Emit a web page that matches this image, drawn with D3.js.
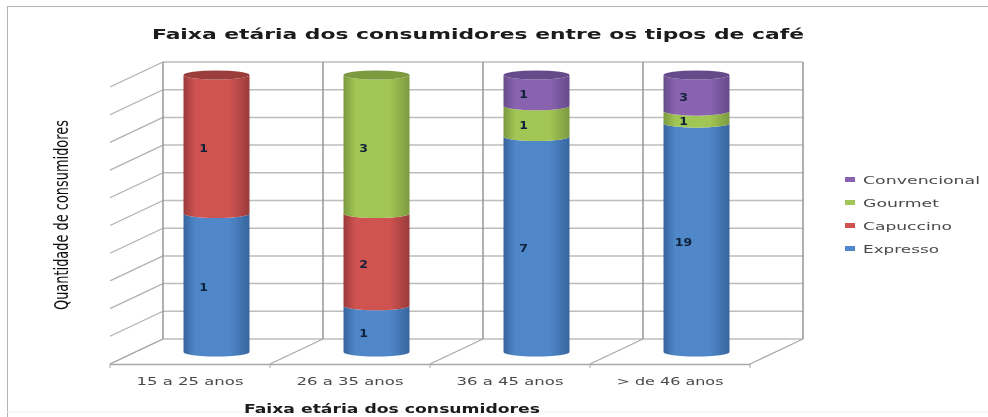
<!DOCTYPE html>
<html>
<head>
<meta charset="utf-8">
<script src="https://cdn.jsdelivr.net/npm/d3@7"></script>
<style>
  html, body { margin: 0; padding: 0; background: #fff; }
  svg { display: block; }
  text { font-family: "DejaVu Sans", sans-serif; }
</style>
</head>
<body>
<script>
// values as printed on the bars, each column is stacked to 100%
const faixas = ['15 a 25 anos', '26 a 35 anos', '36 a 45 anos', '> de 46 anos']
const expresso = [1, 1, 7, 19]
const capuccino = [1, 2, 0, 0]
const gourmet = [0, 3, 1, 1]
const convencional = [0, 0, 1, 3]

const tipos = ['Expresso', 'Capuccino', 'Gourmet', 'Convencional']
const cores = ['#4f87c8', '#cf5351', '#a2c654', '#8a64b0']
const coresEscuras = ['#37659e', '#9a3c3a', '#7b9a40', '#664b8a']
const titulo = 'Faixa etária dos consumidores entre os tipos de café'
const tituloX = 'Faixa etária dos consumidores'
const tituloY = 'Quantidade de consumidores'

const width = 988
const height = 417

// 3d box: floor front edge and how far the back wall is shifted
const depthX = 53
const depthY = -25
const cylW = 66
const cylRy = 4.5

const rows = faixas.map((f, i) => ({
  faixa: f,
  Expresso: expresso[i],
  Capuccino: capuccino[i],
  Gourmet: gourmet[i],
  Convencional: convencional[i]
}))
const stacked = d3.stack().keys(tipos).offset(d3.stackOffsetExpand)(rows)

const x = d3.scaleBand().domain(faixas).range([110, 750])
const y = d3.scaleLinear().domain([0, 1]).range([339, 62])
const color = d3.scaleOrdinal().domain(tipos).range(cores)
const dark = d3.scaleOrdinal().domain(tipos).range(coresEscuras)

const svg = d3.select('body').append('svg').attr('width', width).attr('height', height)
const defs = svg.append('defs')

defs.append('filter').attr('id', 'soft')
  .attr('x', 0).attr('y', 0).attr('width', '100%').attr('height', '100%')
  .append('feGaussianBlur').attr('stdDeviation', 0.7)

tipos.forEach(t => {
  const g = defs.append('linearGradient').attr('id', 'grad-' + t)
  g.append('stop').attr('offset', '0%').attr('stop-color', dark(t))
  g.append('stop').attr('offset', '18%').attr('stop-color', color(t))
  g.append('stop').attr('offset', '70%').attr('stop-color', color(t))
  g.append('stop').attr('offset', '100%').attr('stop-color', dark(t))
})

const chart = svg.append('g').attr('filter', 'url(#soft)')

// outer frame
chart.append('path').attr('d', `M7,${height}V6H${width}`)
  .attr('fill', 'none').attr('stroke', '#b4b4b4').attr('stroke-width', 2)
chart.append('line').attr('x1', 7).attr('x2', width).attr('y1', 412).attr('y2', 412)
  .attr('stroke', '#f0f0f0')

// back wall + side wall lines
const backLeft = x.range()[0] + depthX
const backRight = x.range()[1] + depthX
const ticks = y.ticks(10)

chart.selectAll('.grid').data(ticks).enter().append('line')
  .attr('class', 'grid')
  .attr('x1', backLeft).attr('x2', backRight)
  .attr('y1', d => y(d)).attr('y2', d => y(d))
  .attr('stroke', '#bdbdbd').attr('stroke-width', 1.5)

chart.selectAll('.side').data(ticks).enter().append('line')
  .attr('class', 'side')
  .attr('x1', backLeft - depthX).attr('x2', backLeft)
  .attr('y1', d => y(d) - depthY).attr('y2', d => y(d))
  .attr('stroke', '#b0b0b0').attr('stroke-width', 1.2)

const edges = faixas.map(f => x(f)).concat(x.range()[1])

chart.selectAll('.wall').data(edges).enter().append('line')
  .attr('class', 'wall')
  .attr('x1', d => d + depthX).attr('x2', d => d + depthX)
  .attr('y1', y(1)).attr('y2', y(0))
  .attr('stroke', '#969696').attr('stroke-width', 1.5)

chart.selectAll('.floor').data(edges).enter().append('line')
  .attr('class', 'floor')
  .attr('x1', d => d).attr('x2', d => d + depthX)
  .attr('y1', y(0) - depthY).attr('y2', y(0))
  .attr('stroke', '#a8a8a8').attr('stroke-width', 1.2)

// front edge of the floor with the category labels
const xAxis = chart.append('g')
  .attr('transform', `translate(0,${y(0) - depthY})`)
  .call(d3.axisBottom(x).tickSize(0).tickPadding(13))
xAxis.select('.domain').attr('stroke', '#a8a8a8').attr('stroke-width', 1.5)
xAxis.selectAll('text')
  .attr('font-size', 11)
  .attr('fill', '#4a4a4a')
  .attr('textLength', 107)
  .attr('lengthAdjust', 'spacingAndGlyphs')

chart.selectAll('.edgetick').data(edges).enter().append('line')
  .attr('class', 'edgetick')
  .attr('x1', d => d).attr('x2', d => d)
  .attr('y1', y(0) - depthY).attr('y2', y(0) - depthY + 4)
  .attr('stroke', '#a8a8a8')

// cylinders
const cx = f => x(f) + x.bandwidth() / 2 + depthX / 2
const cy = v => y(v) - depthY / 2 + 0.5

function segment(f, v0, v1) {
  const l = cx(f) - cylW / 2
  const r = cx(f) + cylW / 2
  const rx = cylW / 2
  return `M${l},${cy(v1)}A${rx},${cylRy} 0 0 0 ${r},${cy(v1)}` +
    `V${cy(v0)}A${rx},${cylRy} 0 0 1 ${l},${cy(v0)}Z`
}

const series = chart.selectAll('.serie').data(stacked).enter().append('g')
  .attr('class', 'serie')

series.selectAll('path')
  .data(s => s.filter(d => d[1] > d[0]).map(d => ({ key: s.key, d })))
  .enter().append('path')
  .attr('d', p => segment(p.d.data.faixa, p.d[0], p.d[1]))
  .attr('fill', p => `url(#grad-${p.key})`)

// top caps, they take the colour of the highest segment
const caps = rows.map(r => ({ faixa: r.faixa, key: tipos.filter(t => r[t] > 0).pop() }))

chart.selectAll('.cap').data(caps).enter().append('ellipse')
  .attr('class', 'cap')
  .attr('cx', d => cx(d.faixa))
  .attr('cy', cy(1))
  .attr('rx', cylW / 2)
  .attr('ry', cylRy)
  .attr('fill', d => dark(d.key))

// value labels, left of the cylinder axis like the original
series.selectAll('text')
  .data(s => s.filter(d => d[1] > d[0]).map(d => ({ key: s.key, d })))
  .enter().append('text')
  .attr('transform', p => `translate(${cx(p.d.data.faixa) - 13},${cy((p.d[0] + p.d[1]) / 2) + 8}) scale(1.25,1)`)
  .attr('text-anchor', 'middle')
  .attr('font-size', 10)
  .attr('font-weight', 'bold')
  .attr('fill', '#10203a')
  .text(p => p.d.data[p.key])

// titles
chart.append('text').attr('x', 478).attr('y', 39)
  .attr('text-anchor', 'middle')
  .attr('font-size', 14).attr('font-weight', 'bold').attr('fill', '#1a1a1a')
  .attr('textLength', 652).attr('lengthAdjust', 'spacingAndGlyphs')
  .text(titulo)

chart.append('text').attr('x', 392).attr('y', 413)
  .attr('text-anchor', 'middle')
  .attr('font-size', 12).attr('font-weight', 'bold').attr('fill', '#1a1a1a')
  .attr('textLength', 296).attr('lengthAdjust', 'spacingAndGlyphs')
  .text(tituloX)

chart.append('text')
  .attr('transform', 'translate(68,215) rotate(-90)')
  .attr('text-anchor', 'middle')
  .attr('font-family', '"Liberation Sans", sans-serif')
  .attr('font-size', 19).attr('fill', '#111')
  .attr('textLength', 190).attr('lengthAdjust', 'spacingAndGlyphs')
  .text(tituloY)

// legend, reversed like the stack
const legendY = d3.scalePoint().domain(tipos.slice().reverse()).range([180, 249])
const legendW = { Convencional: 117, Gourmet: 76, Capuccino: 89, Expresso: 76 }

const legend = chart.selectAll('.legenda').data(tipos).enter().append('g')
  .attr('class', 'legenda')
  .attr('transform', d => `translate(845,${legendY(d)})`)

legend.append('rect')
  .attr('y', -3).attr('width', 10).attr('height', 5)
  .attr('fill', d => color(d))

legend.append('text')
  .attr('x', 18).attr('y', 4)
  .attr('font-size', 11).attr('fill', '#4a4a4a')
  .attr('textLength', d => legendW[d]).attr('lengthAdjust', 'spacingAndGlyphs')
  .text(d => d)
</script>
</body>
</html>
